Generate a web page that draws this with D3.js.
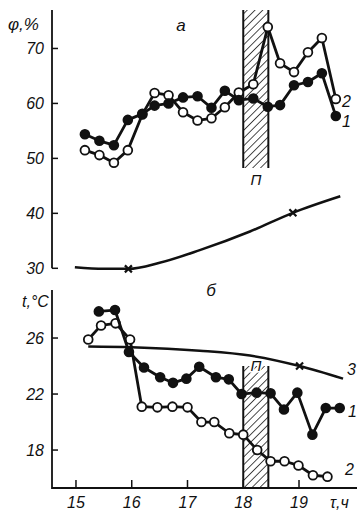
<!DOCTYPE html>
<html>
<head>
<meta charset="utf-8">
<script src="https://cdn.jsdelivr.net/npm/d3@7"></script>
<style>
  body { margin: 0; background: #fff; }
  text { font-family: "Liberation Sans Narrow", "Liberation Sans", "DejaVu Sans Condensed", sans-serif; font-style: italic; fill: #111; }
</style>
</head>
<body>
<div id="chart"></div>
<script>
// верхний график (а): относительная влажность, %
var humHours = [15.16, 15.42, 15.68, 15.93, 16.19, 16.41, 16.66, 16.92, 17.18, 17.43, 17.67, 17.92, 18.18, 18.44, 18.66, 18.91, 19.16, 19.41, 19.66];
var hum1 = [54.4, 53.2, 52.4, 57.0, 58.1, 59.6, 60.0, 61.1, 61.3, 59.2, 62.3, 60.6, 60.9, 59.4, 59.7, 63.3, 63.9, 65.5, 57.7];
var hum2 = [51.5, 50.6, 49.2, 51.5, 58.0, 61.9, 61.5, 58.4, 56.9, 57.3, 59.3, 62.0, 63.5, 73.9, 67.3, 65.7, 69.3, 71.9, 60.8];
var hum3 = [[14.98, 30.2], [15.5, 29.9], [15.94, 29.9], [16.5, 31.0], [17.22, 33.3], [18.12, 36.7], [18.89, 40.1], [19.74, 43.1]];
var hum3Marks = [[15.94, 29.9], [18.89, 40.1]];

// нижний график (б): температура, °C
var t1Hours = [15.41, 15.70, 15.95, 16.22, 16.51, 16.74, 16.98, 17.21, 17.51, 17.74, 17.97, 18.24, 18.49, 18.73, 18.97, 19.24, 19.48, 19.73];
var t1 = [27.9, 28.0, 25.0, 23.9, 23.2, 22.8, 23.1, 23.95, 23.2, 23.05, 22.0, 22.1, 22.05, 20.9, 22.1, 19.1, 21.0, 21.0];
var t2Hours = [15.22, 15.45, 15.71, 15.97, 16.18, 16.46, 16.73, 17.0, 17.25, 17.48, 17.75, 18.0, 18.25, 18.49, 18.74, 18.99, 19.25, 19.51];
var t2 = [25.9, 26.9, 27.05, 25.9, 21.1, 21.05, 21.1, 21.05, 20.0, 20.0, 19.2, 19.1, 18.0, 17.2, 17.2, 16.9, 16.2, 16.1];
var t3 = [[15.22, 25.4], [16.0, 25.35], [17.22, 25.1], [18.12, 24.75], [19.01, 24.0], [19.79, 23.1]];
var t3Marks = [[19.01, 24.0]];

var hourTicks = [15, 16, 17, 18, 19];
var humTicks = [30, 40, 50, 60, 70];
var tTicks = [18, 22, 26];
var band = [18.0, 18.45];

var W = 357, H = 511;
var svg = d3.select("#chart").append("svg").attr("width", W).attr("height", H);

var x = d3.scaleLinear().domain([14.57, 20.04]).range([52, 357]);
var yH = d3.scaleLinear().domain([30, 77]).range([268.3, 10]);
var yT = d3.scaleLinear().domain([15.29, 29.43]).range([488, 290]);

// штриховка
var defs = svg.append("defs");
var pat = defs.append("pattern")
    .attr("id", "hatch")
    .attr("patternUnits", "userSpaceOnUse")
    .attr("width", 5.5).attr("height", 5.5)
    .attr("patternTransform", "rotate(45)");
pat.append("line").attr("x1", 0).attr("y1", 0).attr("x2", 0).attr("y2", 5.5)
    .attr("stroke", "#111").attr("stroke-width", 1.5);

function drawBand(y0, y1) {
    svg.append("rect")
        .attr("x", x(band[0])).attr("y", y0)
        .attr("width", x(band[1]) - x(band[0])).attr("height", y1 - y0)
        .attr("fill", "url(#hatch)");
    [band[0], band[1]].forEach(function (b) {
        svg.append("line").attr("x1", x(b)).attr("x2", x(b)).attr("y1", y0).attr("y2", y1)
            .attr("stroke", "#111").attr("stroke-width", 2);
    });
}

drawBand(yH(77), 168);
drawBand(366, yT.range()[0]);

// оси верхнего графика
svg.append("line").attr("x1", 52).attr("x2", 52).attr("y1", yH(77)).attr("y2", yH(30))
    .attr("stroke", "#111").attr("stroke-width", 1.8);
svg.selectAll(".htick").data(humTicks).enter().append("line")
    .attr("x1", 52).attr("x2", 58).attr("y1", d => yH(d)).attr("y2", d => yH(d))
    .attr("stroke", "#111").attr("stroke-width", 1.5);
svg.selectAll(".hlab").data(humTicks).enter().append("text")
    .attr("x", 44).attr("y", d => yH(d) + 5.5)
    .attr("text-anchor", "end").attr("font-size", 16).text(d => d);

// оси нижнего графика
svg.append("path")
    .attr("d", "M52," + yT(29.43) + "V" + yT(15.29) + "H357")
    .attr("fill", "none").attr("stroke", "#111").attr("stroke-width", 1.8);
svg.selectAll(".ttick").data(tTicks).enter().append("line")
    .attr("x1", 52).attr("x2", 58).attr("y1", d => yT(d)).attr("y2", d => yT(d))
    .attr("stroke", "#111").attr("stroke-width", 1.5);
svg.selectAll(".tlab").data(tTicks).enter().append("text")
    .attr("x", 44).attr("y", d => yT(d) + 5.5)
    .attr("text-anchor", "end").attr("font-size", 16).text(d => d);
svg.selectAll(".xtick").data(hourTicks).enter().append("line")
    .attr("x1", d => x(d)).attr("x2", d => x(d)).attr("y1", 488).attr("y2", 480)
    .attr("stroke", "#111").attr("stroke-width", 1.5);
svg.selectAll(".xlab").data(hourTicks).enter().append("text")
    .attr("x", d => x(d)).attr("y", 508)
    .attr("text-anchor", "middle").attr("font-size", 16).text(d => d);
svg.append("text").attr("x", 330).attr("y", 508).attr("font-size", 16).text("τ,ч");

// подписи
svg.append("text").attr("x", 8).attr("y", 30).attr("font-size", 17).text("φ,%");
svg.append("text").attr("x", 22).attr("y", 307).attr("font-size", 16).text("t,°C");
svg.append("text").attr("x", 181).attr("y", 31).attr("text-anchor", "middle").attr("font-size", 17).text("а");
svg.append("text").attr("x", 211).attr("y", 296).attr("text-anchor", "middle").attr("font-size", 17).text("б");
svg.append("text").attr("x", 256).attr("y", 185).attr("text-anchor", "middle").attr("font-size", 15).text("П");
svg.append("text").attr("x", 256).attr("y", 371).attr("text-anchor", "middle").attr("font-size", 15)
    .attr("stroke", "#fff").attr("stroke-width", 3).attr("paint-order", "stroke").text("П");

// серии
function series(hours, vals, yScale, filled) {
    var pts = hours.map((h, i) => [h, vals[i]]);
    svg.append("path").datum(pts)
        .attr("fill", "none").attr("stroke", "#111").attr("stroke-width", 2.8)
        .attr("stroke-linejoin", "round")
        .attr("d", d3.line().x(d => x(d[0])).y(d => yScale(d[1])));
    svg.append("g").selectAll("circle").data(pts).enter().append("circle")
        .attr("cx", d => x(d[0])).attr("cy", d => yScale(d[1])).attr("r", 4.4)
        .attr("fill", filled ? "#111" : "#fff")
        .attr("stroke", "#111").attr("stroke-width", 1.8);
}

function smooth(pts, marks, yScale) {
    svg.append("path").datum(pts)
        .attr("fill", "none").attr("stroke", "#111").attr("stroke-width", 2.5)
        .attr("d", d3.line().curve(d3.curveMonotoneX).x(d => x(d[0])).y(d => yScale(d[1])));
    svg.append("g").selectAll("path").data(marks).enter().append("path")
        .attr("d", d => {
            var cx = x(d[0]), cy = yScale(d[1]), s = 3.5;
            return "M" + (cx - s) + "," + (cy - s) + "L" + (cx + s) + "," + (cy + s) +
                "M" + (cx - s) + "," + (cy + s) + "L" + (cx + s) + "," + (cy - s);
        })
        .attr("stroke", "#111").attr("stroke-width", 2.2);
}

smooth(hum3, hum3Marks, yH);
series(humHours, hum2, yH, false);
series(humHours, hum1, yH, true);

smooth(t3, t3Marks, yT);
series(t2Hours, t2, yT, false);
series(t1Hours, t1, yT, true);

// номера кривых
svg.append("text").attr("x", 342).attr("y", 107).attr("font-size", 16).text("2");
svg.append("text").attr("x", 342).attr("y", 127).attr("font-size", 16).text("1");
svg.append("text").attr("x", 347).attr("y", 375).attr("font-size", 16).text("3");
svg.append("text").attr("x", 348).attr("y", 417).attr("font-size", 16).text("1");
svg.append("text").attr("x", 345).attr("y", 475).attr("font-size", 16).text("2");
</script>
</body>
</html>
